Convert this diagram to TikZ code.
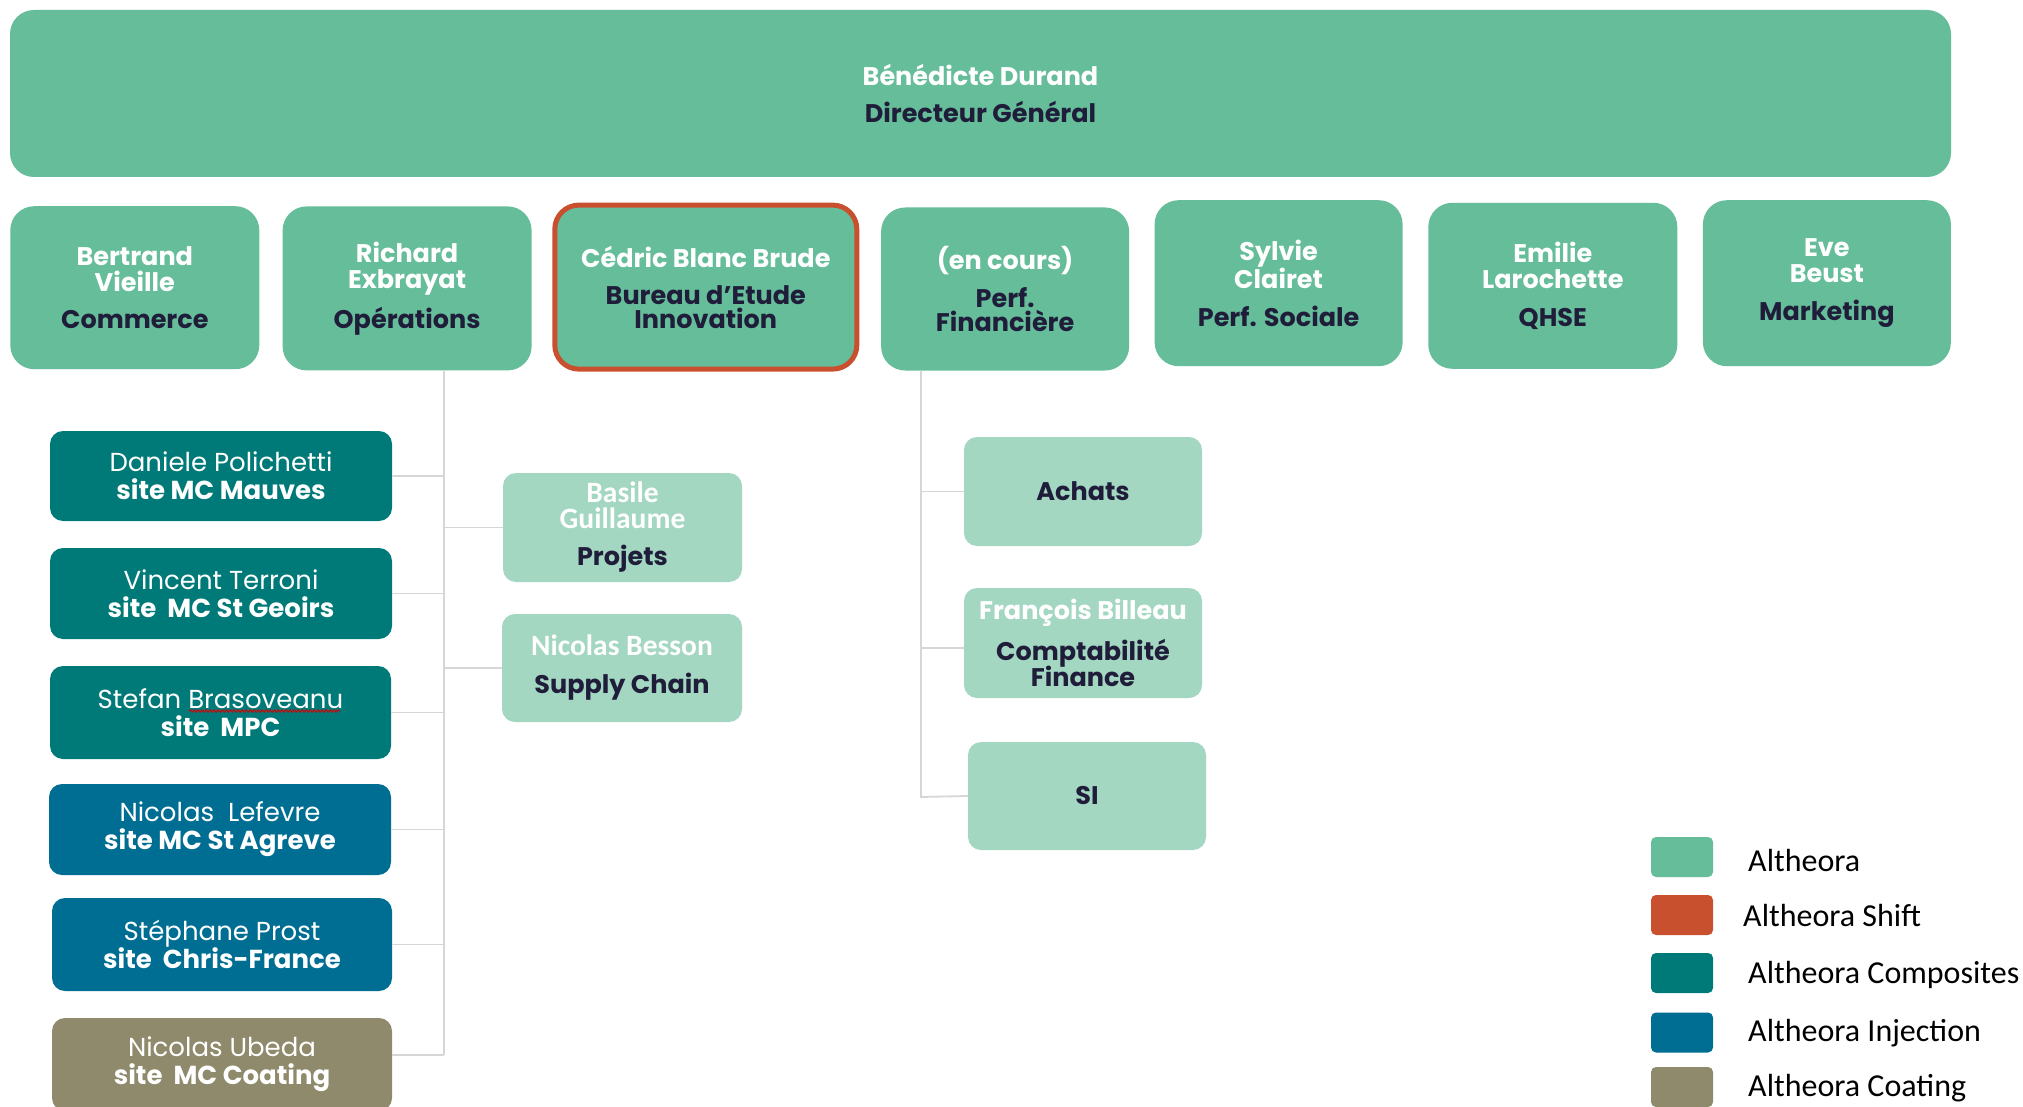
\documentclass[tikz,border=0pt]{standalone}
\usepackage{fontspec}
\setmainfont{Poppins}
\newfontfamily\carl{Carlito}
\usetikzlibrary{decorations.pathmorphing}
\definecolor{alt}{HTML}{66BD99}
\definecolor{altl}{HTML}{A3D7C1}
\definecolor{shiftc}{HTML}{C8502E}
\definecolor{comp}{HTML}{007A78}
\definecolor{inj}{HTML}{006E93}
\definecolor{coat}{HTML}{8F8A6C}
\definecolor{ink}{HTML}{1F1D3A}
\definecolor{connc}{HTML}{D6D6D6}
\newcommand\ttl[1]{{\color{ink}#1}}
\newcommand\cn[1]{{\carl\bfseries\fontsize{29.5}{26}\selectfont #1}}
\newcommand\sbf[1]{{\bfseries #1}}
\tikzset{
  conn/.style={draw=connc, line width=1.8pt},
  sz/.style 2 args={minimum width=#1pt, minimum height=#2pt},
  lvl/.style={rectangle, rounded corners=24pt, fill=alt, inner sep=0pt, align=center, text=white, font=\bfseries\fontsize{25.5}{26}\selectfont},
  subbox/.style={rectangle, rounded corners=13pt, fill=altl, inner sep=0pt, align=center, text=white, font=\bfseries\fontsize{25.5}{26}\selectfont},
  sitebox/.style={rectangle, rounded corners=13pt, inner sep=0pt, align=center, text=white, font=\fontsize{26}{28}\selectfont},
  swatch/.style={rectangle, rounded corners=5pt, minimum width=62pt, minimum height=40pt, inner sep=0pt},
  legtext/.style={anchor=base west, inner sep=0pt, font=\carl\fontsize{32}{32}\selectfont, text=black},
}
\begin{document}
\begin{tikzpicture}[x=1pt,y=-1pt]
\clip (0,0) rectangle (2023,1107);
\fill[white] (0,0) rectangle (2023,1107);

% top
\node[lvl, sz={1941}{167}] (dg) at (980.5,93.5) {Bénédicte Durand\\[11pt]\ttl{Directeur Général}};

% row 2
\node[lvl, sz={249}{163}] (bv) at (134.8,287.7) {Bertrand\\Vieille\\[11pt]\ttl{Commerce}};
\node[lvl, sz={249}{164}] (re) at (407.1,288.4) {Richard\\Exbrayat\\[11pt]\ttl{Opérations}};
\node[lvl, sz={302}{164}, draw=shiftc, line width=5pt] (cb) at (705.8,287.1) {Cédric Blanc Brude\\[11pt]\ttl{Bureau d’Etude}\\[-2pt]\ttl{Innovation}};
\node[lvl, sz={248}{163}] (pf) at (1005.1,289) {(en cours)\\[12pt]\ttl{Perf.}\\[-2pt]\ttl{Financière}};
\node[lvl, sz={248}{166}] (sc) at (1278.6,283.2) {Sylvie\\Clairet\\[12pt]\ttl{Perf. Sociale}};
\node[lvl, sz={249}{166}] (el) at (1552.8,285.8) {Emilie\\Larochette\\[12pt]\ttl{QHSE}};
\node[lvl, sz={248}{166}] (eb) at (1826.9,283.2) {Eve\\Beust\\[12pt]\ttl{Marketing}};

% sites
\node[sitebox, fill=comp, sz={342}{90}] (dp) at (221,476) {Daniele Polichetti\\\sbf{site MC Mauves}};
\node[sitebox, fill=comp, sz={342}{91}] (vt) at (221,593.5) {Vincent Terroni\\\sbf{site~~MC St Geoirs}};
\node[sitebox, fill=comp, sz={341}{93}] (sb) at (220.5,712.5) {Stefan Brasoveanu\\\sbf{site~~MPC}};
\node[sitebox, fill=inj, sz={342}{91}] (nl) at (220,829.5) {Nicolas~~Lefevre\\\sbf{site MC St Agreve}};
\node[sitebox, fill=inj, sz={340}{93}] (sp) at (222,944.5) {Stéphane Prost\\\sbf{site~~Chris-France}};
\node[sitebox, fill=coat, sz={340}{93}] (nu) at (222,1064.5) {Nicolas Ubeda\\\sbf{site~~MC Coating}};
\draw[red!85!black, line width=1pt, decorate, decoration={snake, amplitude=1.2pt, segment length=4pt}] (189,711) -- (340,711);

% operations sub
\node[subbox, sz={239}{109}] (bg) at (622.5,527.5) {\cn{Basile}\\\cn{Guillaume}\\[11pt]\ttl{Projets}};
\node[subbox, sz={240}{108}] (nb) at (622,668) {\cn{Nicolas Besson}\\[12pt]\ttl{Supply Chain}};

% finance sub
\node[subbox, sz={238}{109}] (ac) at (1083,491.5) {\ttl{Achats}};
\node[subbox, sz={238}{110}] (fb) at (1083,643) {François Billeau\\[11pt]\ttl{Comptabilité}\\[-2pt]\ttl{Finance}};
\node[subbox, sz={238}{108}] (si) at (1087,796) {\ttl{SI}};

% connectors operations
\coordinate (opB) at (444,1055);
\draw[conn] (re.south -| opB) -- (opB);
\foreach \n in {dp,vt,sb,nl,sp} \draw[conn] (\n.east) -- (\n.east -| opB);
\draw[conn] (opB) -- (opB -| nu.east);
\draw[conn] (bg.west -| opB) -- (bg.west);
\draw[conn] (nb.west -| opB) -- (nb.west);

% connectors finance
\coordinate (pfB) at (921,797);
\coordinate (pfF) at (921,648);
\draw[conn] (pf.south -| pfB) -- (pfB) -- (si.west);
\draw[conn] (ac.west -| pfB) -- (ac.west);
\draw[conn] (pfF) -- (pfF -| fb.west);

% legend
\node[swatch, fill=alt] (l1) at (1682,857) {};
\node[swatch, fill=shiftc] (l2) at (1682,915) {};
\node[swatch, fill=comp] (l3) at (1682,973) {};
\node[swatch, fill=inj] (l4) at (1682,1032.5) {};
\node[swatch, fill=coat] (l5) at (1682,1087) {};
\node[legtext] (t1) at (1748,871.7) {Altheora};
\node[legtext] (t2) at (1743,926) {Altheora Shift};
\node[legtext] (t3) at (1748,983) {Altheora Composites};
\node[legtext] (t4) at (1748,1041.7) {Altheora Injection};
\node[legtext] (t5) at (1748,1096.7) {Altheora Coating};
\end{tikzpicture}
\end{document}
